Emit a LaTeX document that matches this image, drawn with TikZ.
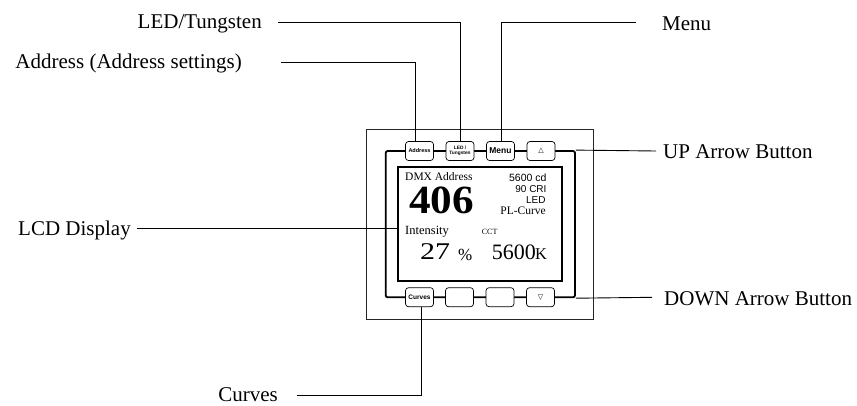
\documentclass[tikz,border=0pt]{standalone}
\usepackage{fontspec}
\setmainfont{Liberation Serif}
\newfontfamily\arialf{Liberation Sans}
\newfontfamily\symf{DejaVu Sans}
\begin{document}
\begin{tikzpicture}[x=1pt,y=-1pt,
  lbl/.style={font=\fontsize{21}{24}\selectfont, inner sep=0pt},
  btn/.style={draw=black, line width=0.7pt, rounded corners=3pt, fill=white,
    minimum width=28pt, minimum height=19pt, inner sep=0pt, align=center},
  leader/.style={line width=0.9pt, black},
  lcdtxt/.style={inner sep=0pt},
]
\useasboundingbox (0,0) rectangle (857,405);

% housing
\node[draw=black!85, line width=0.8pt, minimum width=226.6pt, minimum height=190.3pt, inner sep=0pt] (outer) at (480,224.15) {};
\node[draw=black, line width=1.8pt, rounded corners=2pt, minimum width=189.3pt, minimum height=146.3pt, inner sep=0pt] (frame) at (480.35,224.15) {};
\node[draw=black, line width=1.6pt, minimum width=164pt, minimum height=114pt, inner sep=0pt] (lcd) at (479.7,223.7) {};

% buttons
\node[btn, font=\arialf\bfseries\fontsize{5.5}{5.5}\selectfont] (addr) at (419.5,151) {Address};
\node[btn, font=\arialf\bfseries\fontsize{4.8}{5.4}\selectfont] (led) at (460,151) {LED /\\Tungsten};
\node[btn, font=\arialf\bfseries\fontsize{8.5}{8.5}\selectfont] (menu) at (500.5,151) {Menu};
\node[btn, font=\symf\fontsize{7}{7}\selectfont] (up) at (541,151) {△};
\node[btn, font=\arialf\bfseries\fontsize{6.5}{6.5}\selectfont] (curves) at (419.5,297.2) {Curves};
\node[btn] (b2) at (459.5,297.2) {};
\node[btn] (b3) at (500,297.2) {};
\node[btn, font=\symf\fontsize{7}{7}\selectfont] (down) at (540.5,297.2) {▽};

% LCD contents
\node[lcdtxt, anchor=base west, font=\fontsize{11.5}{12}\selectfont] (dmx) at (405,180.7) {DMX Address};
\node[lcdtxt, anchor=base west, font=\bfseries\fontsize{40}{40}\selectfont] (num) at (409,213.5) {\scalebox{1.08}[1]{406}};
\node[lcdtxt, anchor=base east, font=\arialf\fontsize{10.5}{11}\selectfont] (cd) at (546.7,181.7) {5600 cd};
\node[lcdtxt, anchor=base east, font=\arialf\fontsize{10}{11}\selectfont] (cri) at (546.7,192.3) {90 CRI};
\node[lcdtxt, anchor=base east, font=\arialf\fontsize{10}{11}\selectfont] (ledtxt) at (545.7,203.3) {LED};
\node[lcdtxt, anchor=base east, font=\fontsize{11.5}{12}\selectfont] (pl) at (546,214) {PL-Curve};
\node[lcdtxt, anchor=base west, font=\fontsize{12.5}{13}\selectfont] (int) at (405,234) {Intensity};
\node[lcdtxt, anchor=base west, font=\fontsize{8}{9}\selectfont] (cct) at (481.7,234) {CCT};
\node[lcdtxt, anchor=base west, font=\fontsize{24}{24}\selectfont] (pct) at (420,259.3) {\scalebox{1.25}[1]{27}};
\node[lcdtxt, anchor=base west, font=\fontsize{17}{17}\selectfont] (pctsign) at (458,260.5) {\%};
\node[lcdtxt, anchor=base west, font=\fontsize{22}{22}\selectfont] (kel) at (491.7,259.3) {5600};
\node[lcdtxt, anchor=base west, font=\fontsize{16.5}{16.5}\selectfont] (kk) at (535,259.3) {K};

% labels
\node[lbl, anchor=base east] (ledlbl) at (262,28.3) {LED/Tungsten};
\node[lbl, anchor=base east] (addrlbl) at (242,68.3) {Address (Address settings)};
\node[lbl, anchor=base west] (menulbl) at (662,30) {Menu};
\node[lbl, anchor=base west] (uplbl) at (663,158) {UP Arrow Button};
\node[lbl, anchor=base west] (downlbl) at (664,305) {DOWN Arrow Button};
\node[lbl, anchor=base east] (lcdlbl) at (131,235) {LCD Display};
\node[lbl, anchor=base east] (curlbl) at (278,401.7) {Curves};

% leaders
\coordinate (ledL) at (278,22.7);
\coordinate (addrL) at (281,62.7);
\coordinate (menuL) at (635.7,22.7);
\coordinate (lcdL) at (137,228);
\coordinate (upL) at (656,151);
\coordinate (downL) at (652,297.3);
\coordinate (curL) at (297,395);
\draw[leader] (ledL) -| (led.north);
\draw[leader] (addrL) -| ([xshift=-3.8pt]addr.north);
\draw[leader] (menuL) -| ([xshift=1.2pt]menu.north);
\draw[leader] (lcdL) -- (lcdL -| lcd.west);
\draw[leader] (frame.north east) -- (upL);
\draw[leader] (frame.south east) -- (downL);
\draw[leader] (curL) -| ([xshift=1.5pt]curves.south);
\end{tikzpicture}
\end{document}
